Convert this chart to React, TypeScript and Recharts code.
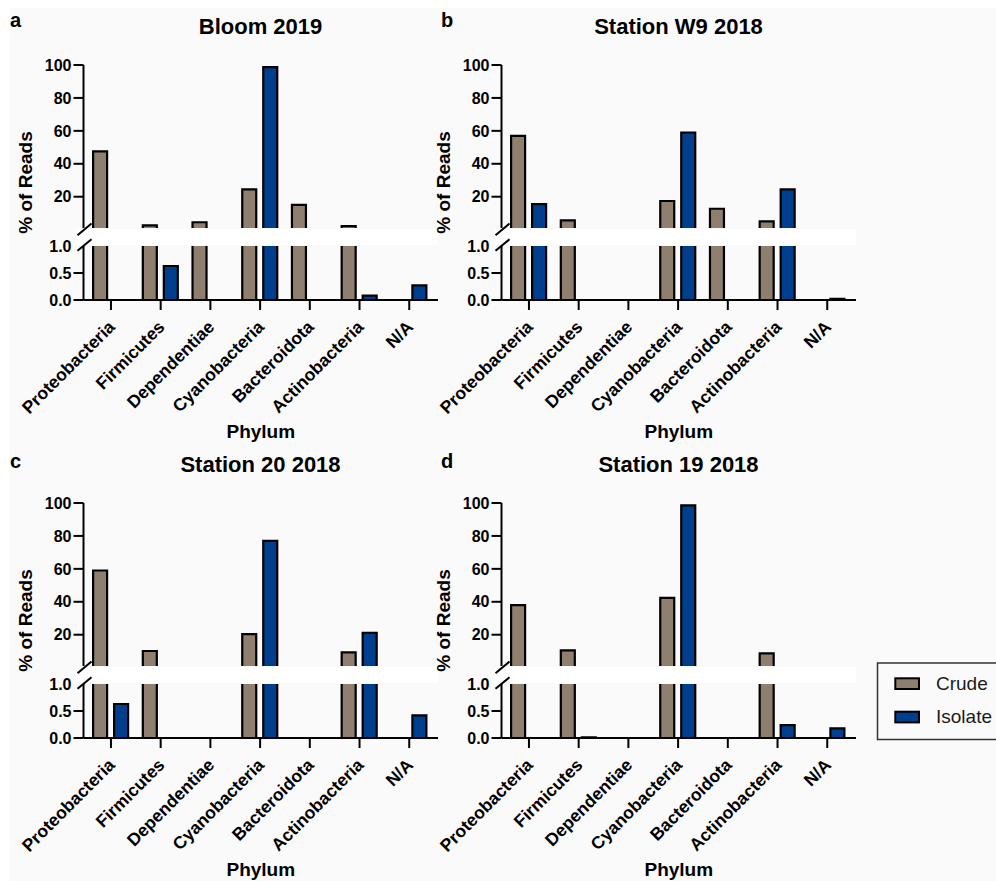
import React from 'react';
import { BarChart, Bar, XAxis, YAxis } from 'recharts';

const FONT = "'Liberation Sans', Arial, Helvetica, sans-serif";
const CRUDE_FILL = '#8e7f6e';
const ISOLATE_FILL = '#003f8e';

// categories shared by all four panels
const phyla = ['Proteobacteria', 'Firmicutes', 'Dependentiae', 'Cyanobacteria', 'Bacteroidota', 'Actinobacteria', 'N/A'];

// % of reads
const bloomCrude = [47.5, 2.6, 4.5, 24.5, 15.1, 2.1, 0];
const bloomIsolate = [0, 0.63, 0, 98.7, 0, 0.08, 0.27];
const w9Crude = [57, 5.6, 0, 17.4, 12.7, 5.0, 0];
const w9Isolate = [15.5, 0, 0, 59, 0, 24.5, 0.02];
const st20Crude = [59, 10.1, 0, 20.4, 0, 9.3, 0];
const st20Isolate = [0.63, 0, 0, 77, 0, 21.2, 0.42];
const st19Crude = [38, 10.5, 0, 42.4, 0, 8.7, 0];
const st19Isolate = [0, 0.01, 0, 98.6, 0, 0.24, 0.18];

// broken y axis: upper segment 1..100, lower segment 0..1
const upperTicks = [20, 40, 60, 80, 100];
const lowerTicks = [0, 0.5, 1];

const axisStyle = { stroke: '#000', strokeWidth: 2 };
const xPadding = { left: 2.6, right: 3.9 };

function buildRows(crude: number[], isolate: number[]) {
  return phyla.map((name, i) => ({
    name,
    crude: crude[i],
    isolate: isolate[i],
    crudeHi: crude[i] > 1 ? crude[i] : null,
    isolateHi: isolate[i] > 1 ? isolate[i] : null,
    crudeLo: Math.min(crude[i], 1),
    isolateLo: Math.min(isolate[i], 1),
  }));
}

// bar outline without the edge that touches the axis break
const cutBar = (fill: string, rawKey: 'crude' | 'isolate', part: 'hi' | 'lo') => (p: any) => {
  const { x, y, width, height, payload } = p;
  const raw = payload ? payload[rawKey] : 0;
  if (!raw || !width || height == null) return <g />;
  if (part === 'hi' && raw <= 1) return <g />;
  const bottom = y + height;
  const cutTop = part === 'lo' && raw > 1;
  const d = cutTop
    ? `M${x},${bottom}V${y}M${x + width},${y}V${bottom}`
    : `M${x},${bottom}V${y}H${x + width}V${bottom}`;
  return (
    <g>
      <rect x={x} y={y} width={width} height={Math.max(height, 0)} fill={fill} />
      <path d={d} fill="none" stroke="#000" strokeWidth={2.2} />
    </g>
  );
};

const PhylumTick = (props: any) => {
  const { x, y, payload } = props;
  return (
    <text
      transform={`translate(${x + 5},${y + 16}) rotate(-45)`}
      textAnchor="end"
      fontSize={17.5}
      fontWeight={700}
      fill="#000"
      fontFamily={FONT}
    >
      {payload.value}
    </text>
  );
};

const LowerTick = (props: any) => {
  const { x, y, payload } = props;
  return (
    <g>
      {payload.value < 1 && <line x1={x + 2} x2={x + 12} y1={y} y2={y} stroke="#000" strokeWidth={2} />}
      <text x={x} y={y} dy="0.355em" textAnchor="end" fontSize={16} fontWeight={700} fill="#000" fontFamily={FONT}>
        {payload.value.toFixed(1)}
      </text>
    </g>
  );
};

interface PanelProps {
  title: string;
  crude: number[];
  isolate: number[];
  left: number;
  top: number;
}

const Panel: React.FC<PanelProps> = ({ title, crude, isolate, left, top }) => {
  const rows = buildRows(crude, isolate);
  return (
    <div style={{ position: 'absolute', left, top, width: 460, height: 450 }}>
      <svg width={460} height={450} style={{ position: 'absolute', left: 0, top: 0 }} fontFamily={FONT}>
        <text x={260.5} y={34} textAnchor="middle" fontSize={22} fontWeight={700} fill="#000">
          {title}
        </text>
        <text transform="translate(25,182.5) rotate(-90)" textAnchor="middle" dy="0.35em" fontSize={19} fontWeight={700} fill="#000">
          % of Reads
        </text>
        <text x={260.8} y={437.5} textAnchor="middle" fontSize={19} fontWeight={700} fill="#000">
          Phylum
        </text>
        <rect x={76} y={229} width={362} height={16} fill="#fff" />
        <line x1={77.5} y1={235.3} x2={91.5} y2={223.5} stroke="#000" strokeWidth={2} />
        <line x1={77.5} y1={250.8} x2={91.5} y2={239.3} stroke="#000" strokeWidth={2} />
      </svg>
      <div style={{ position: 'absolute', left: 0, top: 50 }}>
        <BarChart width={460} height={180} data={rows} margin={{ top: 15, right: 22, bottom: 2, left: 23.5 }} barSize={14} barGap={7}>
          <XAxis dataKey="name" hide padding={xPadding} />
          <YAxis
            domain={[1, 100]}
            ticks={upperTicks}
            interval={0}
            width={60}
            axisLine={axisStyle}
            tickLine={axisStyle}
            tickSize={10}
            tickMargin={2}
            tick={{ fill: '#000', fontSize: 16, fontWeight: 700, fontFamily: FONT }}
          />
          <Bar dataKey="crudeHi" fill={CRUDE_FILL} isAnimationActive={false} shape={cutBar(CRUDE_FILL, 'crude', 'hi')} />
          <Bar dataKey="isolateHi" fill={ISOLATE_FILL} isAnimationActive={false} shape={cutBar(ISOLATE_FILL, 'isolate', 'hi')} />
        </BarChart>
      </div>
      <div style={{ position: 'absolute', left: 0, top: 230 }}>
        <BarChart width={460} height={200} data={rows} margin={{ top: 16, right: 22, bottom: 0, left: 23.5 }} barSize={14} barGap={7}>
          <XAxis
            dataKey="name"
            padding={xPadding}
            height={130}
            interval={0}
            axisLine={axisStyle}
            tickLine={axisStyle}
            tickSize={10}
            tickMargin={2}
            tick={<PhylumTick />}
          />
          <YAxis
            domain={[0, 1]}
            ticks={lowerTicks}
            interval={0}
            width={60}
            axisLine={axisStyle}
            tickLine={false}
            tickSize={10}
            tickMargin={2}
            tick={<LowerTick />}
          />
          <Bar dataKey="crudeLo" fill={CRUDE_FILL} isAnimationActive={false} shape={cutBar(CRUDE_FILL, 'crude', 'lo')} />
          <Bar dataKey="isolateLo" fill={ISOLATE_FILL} isAnimationActive={false} shape={cutBar(ISOLATE_FILL, 'isolate', 'lo')} />
        </BarChart>
      </div>
    </div>
  );
};

export default function App() {
  return (
    <div style={{ position: 'absolute', left: 0, top: 0, width: 996, height: 881, background: '#fff', overflow: 'hidden', fontFamily: FONT }}>
      <div style={{ position: 'absolute', left: 10, top: 8, right: 0, bottom: 0, background: '#fafafa' }} />
      <Panel title="Bloom 2019" crude={bloomCrude} isolate={bloomIsolate} left={0} top={0} />
      <Panel title="Station W9 2018" crude={w9Crude} isolate={w9Isolate} left={417.7} top={0} />
      <Panel title="Station 20 2018" crude={st20Crude} isolate={st20Isolate} left={0} top={438.3} />
      <Panel title="Station 19 2018" crude={st19Crude} isolate={st19Isolate} left={417.7} top={438.3} />
      <svg width={996} height={881} style={{ position: 'absolute', left: 0, top: 0, pointerEvents: 'none' }} fontFamily={FONT}>
        <text x={10} y={26.5} fontSize={20} fontWeight={700} fill="#000">a</text>
        <text x={441} y={26.5} fontSize={20} fontWeight={700} fill="#000">b</text>
        <text x={10} y={468} fontSize={20} fontWeight={700} fill="#000">c</text>
        <text x={441} y={468} fontSize={20} fontWeight={700} fill="#000">d</text>
        <rect x={877.5} y={663} width={130} height={76.5} fill="none" stroke="#333" strokeWidth={1.5} />
        <rect x={895.3} y={678.3} width={23.7} height={10.7} fill={CRUDE_FILL} stroke="#000" strokeWidth={2} />
        <text x={936} y={683.5} dy="0.35em" fontSize={19} fill="#1a1a1a">Crude</text>
        <rect x={895.3} y={711.7} width={23.7} height={10.7} fill={ISOLATE_FILL} stroke="#000" strokeWidth={2} />
        <text x={936} y={716.7} dy="0.35em" fontSize={19} fill="#1a1a1a">Isolate</text>
      </svg>
    </div>
  );
}
